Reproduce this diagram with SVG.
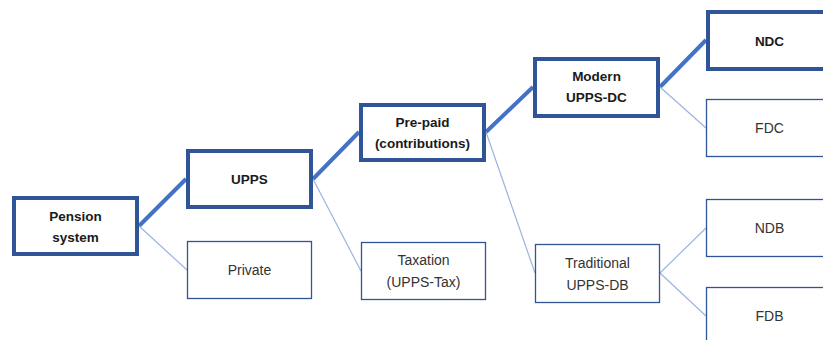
<svg xmlns="http://www.w3.org/2000/svg" width="823" height="340" viewBox="0 0 823 340">
<style>
.bold rect{fill:#fff;stroke:#2F5597;stroke-width:4}
.thin rect{fill:#fff;stroke:#2F5597;stroke-width:1.3}
text{font-family:"Liberation Sans",Arial,sans-serif;font-size:14px;fill:#1a1a1a;text-anchor:middle}
.bold text{font-weight:bold;font-size:13.5px}
.thin text{fill:#333}
.hl{stroke:#4472C4;stroke-width:4;fill:none}
.ln{stroke:#9DB3E0;stroke-width:1.2;fill:none}
</style>
<rect width="823" height="340" fill="#fff"/>
<g id="connectors">
<line class="hl" x1="139" y1="226" x2="186" y2="179"/>
<line class="ln" x1="139" y1="226" x2="187" y2="270"/>
<line class="hl" x1="313" y1="179" x2="359" y2="132"/>
<line class="ln" x1="313" y1="179" x2="361" y2="271"/>
<line class="hl" x1="486" y1="132" x2="533" y2="87"/>
<line class="ln" x1="486" y1="132" x2="535" y2="273"/>
<line class="hl" x1="660" y1="87" x2="706" y2="40"/>
<line class="ln" x1="660" y1="87" x2="706" y2="128"/>
<line class="ln" x1="660" y1="273" x2="706" y2="228"/>
<line class="ln" x1="660" y1="273" x2="706" y2="316"/>
</g>
<g id="pension" class="bold"><rect x="14" y="198" width="123" height="56"/><text x="75.5" y="221">Pension</text><text x="75.5" y="242">system</text></g>
<g id="upps" class="bold"><rect x="188" y="151" width="123" height="56"/><text x="249.5" y="184">UPPS</text></g>
<g id="private" class="thin"><rect x="187.5" y="241.5" width="124" height="57"/><text x="249.5" y="275">Private</text></g>
<g id="prepaid" class="bold"><rect x="361" y="105" width="123" height="55"/><text x="422.5" y="127">Pre-paid</text><text x="422.5" y="148">(contributions)</text></g>
<g id="taxation" class="thin"><rect x="361.5" y="242.5" width="124" height="57"/><text x="423.5" y="265">Taxation</text><text x="423.5" y="287">(UPPS-Tax)</text></g>
<g id="modern" class="bold"><rect x="535" y="59" width="123" height="57"/><text x="596.5" y="81">Modern</text><text x="596.5" y="102">UPPS-DC</text></g>
<g id="traditional" class="thin"><rect x="535.5" y="244.5" width="124" height="58"/><text x="597.5" y="268">Traditional</text><text x="597.5" y="290">UPPS-DB</text></g>
<g id="ndc" class="bold"><rect x="708" y="12" width="123" height="57"/><text x="769.5" y="46">NDC</text></g>
<g id="fdc" class="thin"><rect x="706.5" y="99.5" width="124" height="57"/><text x="769.5" y="133">FDC</text></g>
<g id="ndb" class="thin"><rect x="706.5" y="199.5" width="124" height="57"/><text x="769.5" y="233">NDB</text></g>
<g id="fdb" class="thin"><rect x="706.5" y="287.5" width="124" height="57"/><text x="769.5" y="321">FDB</text></g>
</svg>
